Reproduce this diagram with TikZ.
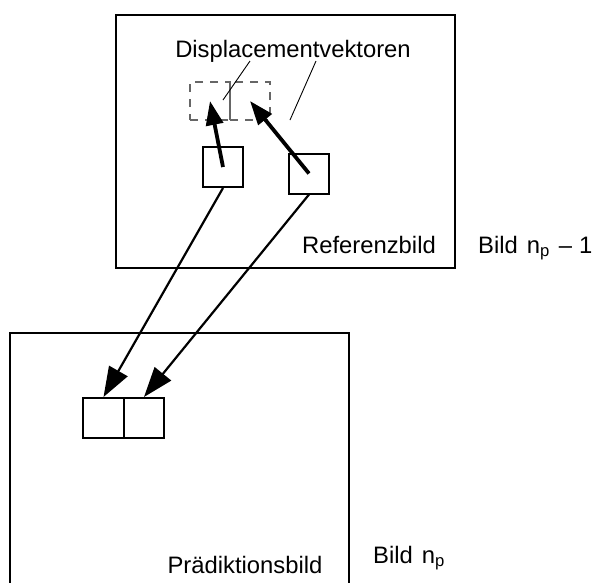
\documentclass[tikz,border=0pt]{standalone}
\usepackage{fontspec}
\setmainfont{Liberation Sans}
\usetikzlibrary{arrows.meta}
\begin{document}
\begin{tikzpicture}[x=1pt,y=-1pt,
  frame/.style={draw, line width=2pt},
  blk/.style={draw, line width=2pt, minimum width=40pt, minimum height=40pt, inner sep=0pt},
  ghost/.style={draw=black!60, line width=1.3pt, dash pattern=on 8pt off 7pt, dash phase=0pt, minimum width=40pt, minimum height=38pt, inner sep=0pt},
  mv/.style={line width=3.8pt, -{Triangle[length=24pt,width=17pt]}},
  link/.style={line width=2.2pt, -{Triangle[length=30pt,width=21pt]}},
  leader/.style={line width=0.9pt},
  lbl/.style={font=\fontsize{23.8}{28}\selectfont, inner sep=0pt}
]
\useasboundingbox (0,0) rectangle (609,582);
% frames
\draw[frame] (116,15) rectangle (455,268);
\draw[frame] (10,590) -- (10,333) -- (349,333) -- (349,590);
% dashed displaced positions
\node[ghost] (g1) at (210,101) {};
\node[ghost] (g2) at (250,101) {};
% reference blocks
\node[blk] (b1) at (223,167) {};
\node[blk] (b2) at (309,173.5) {};
% prediction blocks
\node[blk, minimum width=41pt] (p1) at (103.5,418) {};
\node[blk] (p2) at (144,418) {};
% labels
\node[lbl, anchor=base] (dv) at (293,57) {Displacementvektoren};
\node[lbl, anchor=base east] (rb) at (436,253) {Referenzbild};
\node[lbl, anchor=base west] (bn1) at (478,253) {Bild\hspace{9pt}n\textsubscript{p}\hspace{9pt}–\hspace{7pt}1};
\node[lbl, anchor=base] (pb) at (245,573) {Prädiktionsbild};
\node[lbl, anchor=base west] (bn) at (373,563) {Bild\hspace{9pt}n\textsubscript{p}};
% leader lines
\coordinate (l1s) at (250,61);
\coordinate (l1e) at (223,100);
\coordinate (l2s) at (316,61);
\coordinate (l2e) at (290,120);
\draw[leader] (l1s) -- (l1e);
\draw[leader] (l2s) -- (l2e);
% displacement vectors
\draw[mv] (b1.center) -- (g1.center);
\draw[mv] (b2.center) -- (g2.center);
% links to prediction
\draw[link] (b1.south) -- (p1.north);
\draw[link] (b2.south) -- (p2.north);
\end{tikzpicture}
\end{document}
